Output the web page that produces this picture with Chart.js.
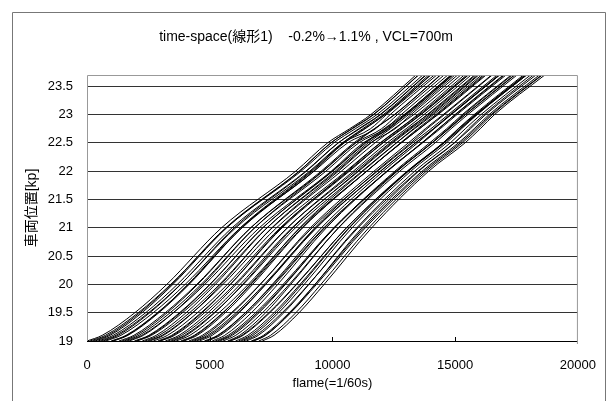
<!DOCTYPE html>
<html>
<head>
<meta charset="utf-8">
<script src="https://cdn.jsdelivr.net/npm/chart.js@4.4.1/dist/chart.umd.min.js"></script>
<style>
  html, body { margin: 0; padding: 0; background: #fff; }
  #wrap { width: 613px; height: 401px; }
</style>
</head>
<body>
<div id="wrap"><canvas id="tsChart" width="613" height="401"></canvas></div>
<script>
// position [kp] at which each car's frame is read
const posKm = [19, 19.1, 19.5, 20, 21, 22, 22.5, 22.75, 23, 23.7];

const yTickValues = [19, 19.5, 20, 20.5, 21, 21.5, 22, 22.5, 23, 23.5];
const xTickValues = [0, 5000, 10000, 15000, 20000];

// frame at which each car passes posKm (one row per car)
const earlyCars = [
    [0, 620, 1950, 3250, 5480, 8500, 9800, 10700, 11560, 13400],
    [120, 750, 2090, 3410, 5680, 8720, 10050, 10930, 11810, 13680],
    [330, 940, 2240, 3500, 5690, 8650, 9940, 10780, 11660, 13500],
    [450, 1070, 2390, 3680, 5910, 8910, 10230, 11110, 11960, 13820],
    [660, 1270, 2560, 3820, 6000, 8940, 10240, 11070, 11940, 13790],
    [760, 1380, 2700, 4000, 6250, 9240, 10450, 11550, 12200, 14150],
    [980, 1590, 2870, 4130, 6320, 9250, 10620, 11750, 12350, 14250],
    [1080, 1670, 2930, 4160, 6300, 9170, 10480, 11330, 12130, 13990],
    [1300, 1910, 3190, 4470, 6670, 9600, 10950, 12000, 12650, 14550],
    [1420, 2010, 3270, 4510, 6670, 9540, 10870, 11700, 12520, 14390],
    [1620, 2230, 3520, 4800, 7020, 9950, 11250, 12300, 12950, 14850],
    [1720, 2300, 3520, 4720, 6830, 9620, 10940, 11720, 12540, 14410],
    [1930, 2520, 3770, 5000, 7160, 10010, 11360, 12190, 12980, 14880],
    [2040, 2630, 3890, 5140, 7330, 10180, 11550, 12550, 13200, 15100],
    [2250, 2820, 4040, 5230, 7340, 10110, 11450, 12260, 13020, 14910]
];
const middleCars = [
    [2360, 2940, 4180, 5400, 7550, 10360, 11730, 12500, 13310, 15230],
    [2560, 3120, 4310, 5460, 7530, 10240, 11570, 12360, 13100, 14990],
    [2700, 3280, 4500, 5720, 7870, 10650, 12040, 12800, 13600, 15540],
    [2880, 3450, 4650, 5840, 7950, 10690, 12060, 12850, 13600, 15520],
    [2990, 3570, 4790, 6010, 8160, 10940, 12340, 13090, 13890, 15840],
    [3190, 3750, 4930, 6080, 8170, 10850, 12220, 13000, 13730, 15650],
    [3300, 3860, 5060, 6240, 8350, 11070, 12460, 13200, 13970, 15920],
    [3510, 4050, 5210, 6340, 8390, 11030, 12400, 13150, 13860, 15790],
    [3630, 4190, 5380, 6570, 8690, 11390, 12800, 13530, 14300, 16260],
    [3820, 4370, 5530, 6680, 8760, 11400, 12800, 13550, 14260, 16210],
    [3950, 4490, 5630, 6750, 8790, 11390, 12770, 13470, 14210, 16150],
    [4150, 4700, 5880, 7050, 9170, 11830, 13260, 14010, 14720, 16710],
    [4260, 4800, 5930, 7060, 9100, 11690, 13090, 13780, 14510, 16480],
    [4460, 5000, 6150, 7280, 9350, 11960, 13380, 14110, 14800, 16780],
    [4580, 5100, 6200, 7280, 9280, 11790, 13190, 13850, 14560, 16510]
];
const lateCars = [
    [4780, 5320, 6450, 7590, 9650, 12240, 13670, 14390, 15070, 17070],
    [4900, 5430, 6540, 7650, 9680, 12210, 13640, 14310, 15010, 17000],
    [5100, 5610, 6700, 7770, 9750, 12230, 13640, 14330, 14990, 16960],
    [5220, 5750, 6870, 7990, 10050, 12600, 14050, 14710, 15420, 17430],
    [5410, 5920, 7010, 8080, 10070, 12540, 13960, 14650, 15290, 17280],
    [5540, 6060, 7150, 8240, 10250, 12740, 14180, 14830, 15510, 17520],
    [5730, 6220, 7280, 8300, 10240, 12640, 14060, 14720, 15340, 17320],
    [5850, 6360, 7450, 8540, 10570, 13040, 14500, 15140, 15820, 17850],
    [6050, 6550, 7620, 8680, 10670, 13100, 14550, 15210, 15840, 17850],
    [6170, 6660, 7710, 8740, 10690, 13070, 14510, 15120, 15770, 17780],
    [6370, 6880, 7950, 9030, 11040, 13480, 14960, 15620, 16240, 18290],
    [6490, 6980, 8020, 9040, 10990, 13350, 14800, 15410, 16050, 18070],
    [6690, 7190, 8240, 9290, 11270, 13650, 15130, 15770, 16380, 18430],
    [6800, 7280, 8290, 9290, 11200, 13510, 14970, 15550, 16170, 18190],
    [7000, 7480, 8510, 9530, 11480, 13820, 15290, 15920, 16510, 18550],
    [7140, 7620, 8640, 9660, 11600, 13920, 15400, 16020, 16600, 18650]
];
const passingCars = [
    [230, 850, 2160, 3440, 5650, 8640, 9930, 10810, 11680, 13510],
    [560, 1180, 2510, 3810, 6060, 9070, 10400, 11290, 12140, 14010],
    [1040, 1630, 2890, 4110, 6250, 9120, 10420, 11230, 12070, 13920],
    [1520, 2120, 3390, 4650, 6830, 9730, 11070, 12150, 12800, 14700],
    [1990, 2570, 3810, 5020, 7160, 9980, 11320, 12100, 12920, 14820],
    [2470, 3060, 4300, 5540, 7720, 10550, 11940, 12720, 13530, 15470],
    [2950, 3510, 4690, 5840, 7910, 10600, 11960, 12730, 13470, 15370],
    [3420, 3980, 5180, 6370, 8490, 11200, 12600, 13340, 14110, 16070],
    [3890, 4420, 5550, 6650, 8660, 11240, 12610, 13300, 14040, 15960],
    [4360, 4910, 6070, 7220, 9320, 11950, 13380, 14120, 14820, 16810],
    [4840, 5360, 6460, 7550, 9550, 12070, 13470, 14140, 14840, 16810],
    [5320, 5840, 6950, 8050, 10090, 12610, 14050, 14750, 15410, 17410],
    [5790, 6310, 7410, 8520, 10570, 13070, 14540, 15210, 15870, 17910],
    [6270, 6760, 7810, 8850, 10800, 13190, 14640, 15260, 15900, 17910],
    [6750, 7250, 8300, 9350, 11340, 13730, 15210, 15840, 16460, 18520]
];

const FONT = "'Liberation Sans', 'Noto Sans CJK JP', sans-serif";
const titleText = 'time-space(線形1)    -0.2%→1.1% , VCL=700m';

const allCars = [...earlyCars, ...middleCars, ...lateCars, ...passingCars];
const datasets = allCars.map((frames, i) => ({
    label: 'car' + (i + 1),
    data: frames.map((f, j) => ({ x: f, y: posKm[j] })),
    borderColor: '#000',
    borderWidth: 1,
    pointRadius: 0,
    fill: false,
    cubicInterpolationMode: 'monotone'
}));

// outer frame, title, plot border and the inward tick marks
const framePlugin = {
    id: 'frame',
    beforeDraw(chart) {
        const c = chart.ctx;
        c.save();
        c.fillStyle = '#fff';
        c.fillRect(0, 0, chart.width, chart.height);
        c.strokeStyle = '#777';
        c.lineWidth = 1;
        c.beginPath();
        c.moveTo(12.5, 401);
        c.lineTo(12.5, 12.5);
        c.lineTo(605.5, 12.5);
        c.lineTo(605.5, 401);
        c.stroke();
        c.fillStyle = '#000';
        c.font = '14px ' + FONT;
        c.textAlign = 'center';
        c.textBaseline = 'middle';
        c.fillText(titleText, 306, 37);
        c.restore();
    },
    afterDraw(chart) {
        const c = chart.ctx;
        const a = chart.chartArea;
        const x = chart.scales.x;
        c.save();
        c.strokeStyle = '#999';
        c.lineWidth = 1;
        c.beginPath();
        c.moveTo(a.left + 0.5, a.bottom);
        c.lineTo(a.left + 0.5, a.top + 0.5);
        c.lineTo(a.right - 0.5, a.top + 0.5);
        c.lineTo(a.right - 0.5, a.bottom + 3);
        c.stroke();
        c.strokeStyle = '#000';
        c.beginPath();
        xTickValues.slice(1, -1).forEach(v => {
            const px = Math.round(x.getPixelForValue(v)) + 0.5;
            c.moveTo(px, a.bottom);
            c.lineTo(px, a.bottom - 4);
        });
        c.stroke();
        c.restore();
    }
};

new Chart(document.getElementById('tsChart'), {
    type: 'line',
    data: { datasets },
    options: {
        responsive: false,
        animation: false,
        devicePixelRatio: 1,
        layout: { padding: { left: 0, top: 75, right: 33, bottom: 0 } },
        plugins: {
            legend: { display: false },
            tooltip: { enabled: false },
            title: { display: false }
        },
        scales: {
            x: {
                type: 'linear',
                min: 0,
                max: 20000,
                afterFit: s => { s.height = 60; },
                afterBuildTicks: s => { s.ticks = xTickValues.map(v => ({ value: v })); },
                grid: { display: false, drawTicks: false },
                border: { display: true, color: '#000', width: 1 },
                ticks: {
                    padding: 17,
                    color: '#000',
                    maxRotation: 0,
                    autoSkip: false,
                    font: { family: FONT, size: 13 },
                    callback: v => String(v)
                },
                title: {
                    display: true,
                    text: 'flame(=1/60s)',
                    color: '#000',
                    font: { family: FONT, size: 13 },
                    padding: { top: 0, bottom: 10 }
                }
            },
            y: {
                type: 'linear',
                min: 19,
                max: 23.7,
                afterFit: s => { s.width = 87; },
                afterBuildTicks: s => { s.ticks = yTickValues.map(v => ({ value: v })); },
                grid: { color: '#333', lineWidth: 1, drawTicks: false },
                border: { display: false },
                ticks: {
                    padding: 14,
                    color: '#000',
                    font: { family: FONT, size: 13 },
                    callback: v => String(v)
                },
                title: {
                    display: true,
                    text: '車両位置[kp]',
                    color: '#000',
                    font: { family: FONT, size: 14 },
                    padding: { top: 24, bottom: 0 }
                }
            }
        }
    },
    plugins: [framePlugin]
});
</script>
</body>
</html>
